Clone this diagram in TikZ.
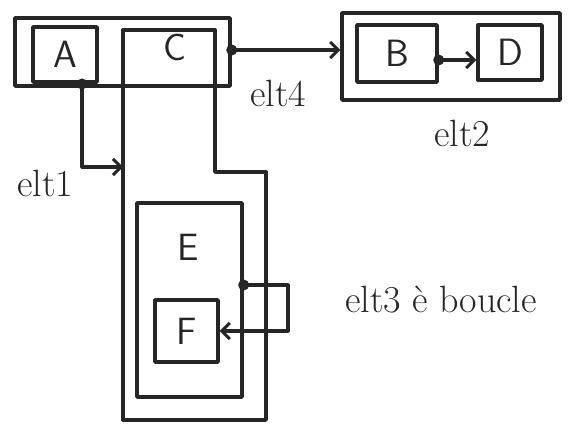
\documentclass[tikz,border=0pt]{standalone}
\usetikzlibrary{arrows.meta}
\begin{document}
\begin{tikzpicture}[x=1pt,y=-1pt,
  ln/.style={draw=black!85, line width=3.4pt, line join=round, line cap=round},
  box/.style={ln, inner sep=0pt},
  letter/.style={font=\sffamily\fontsize{38}{38}\selectfont, text=black!85},
  tag/.style={font=\fontsize{38}{38}\selectfont, text=black!85},
  dot/.style={circle, fill=black!85, draw=none, inner sep=0pt, minimum size=11pt},
  arr/.style={ln, line width=3.2pt, -{Straight Barb[length=8pt,width=16pt,line width=3pt]}}]
\useasboundingbox (0,0) rectangle (575,430);
% top-left group
\node[box, minimum width=215pt, minimum height=68pt] (outer) at (122.5,52) {};
\node[box, letter, minimum width=64pt, minimum height=55pt] (A) at (65,54.5) {A};
% C (L-shaped region)
\coordinate (c1) at (123,30);
\coordinate (c2) at (215,30);
\coordinate (c3) at (215,172);
\coordinate (c4) at (266,172);
\coordinate (c5) at (266,420);
\coordinate (c6) at (123,420);
\draw[ln] (c1) -- (c2);
\draw[ln] (c2) -- (c3) -- (c4);
\draw[ln] (c4) -- (c5) -- (c6);
\draw[ln] (c6) -- (c1);
\node[letter] (Clbl) at (175,47) {C};
\coordinate (cin) at (123,167);
% E and F
\node[box, minimum width=105pt, minimum height=194pt] (E) at (189.5,300) {};
\node[letter] (Elbl) at (188,247) {E};
\node[box, letter, minimum width=63pt, minimum height=62pt] (F) at (186.5,331) {F};
% B / D group
\node[box, minimum width=218pt, minimum height=87pt] (BD) at (451,56.5) {};
\node[box, letter, minimum width=80pt, minimum height=57pt] (B) at (397,53.5) {B};
\node[box, letter, minimum width=64pt, minimum height=55pt] (D) at (510,52.5) {D};
% dots
\node[dot] (dA) at (82,84) {};
\node[dot] (dC) at (outer.east |- 0,50) {};
\node[dot] (dB) at (B.east |- 0,60) {};
\node[dot] (dE) at (E.east |- 0,285) {};
% connectors
\draw[arr] (dA.center) |- (cin);
\draw[arr] (dC.center) -- (BD.west |- dC);
\draw[arr] (dB.center) -- (D.west |- dB);
\coordinate (l1) at (288,285);
\coordinate (l2) at (288,331);
\draw[arr] (dE.center) -- (l1) -- (l2) -- (F.east);
% labels
\node[tag] (t1) at (45,183) {elt1};
\node[tag] (t4) at (278,93) {elt4};
\node[tag] (t2) at (462,133) {elt2};
\node[tag] (t3) at (441,300) {elt3 è boucle};
\end{tikzpicture}
\end{document}
